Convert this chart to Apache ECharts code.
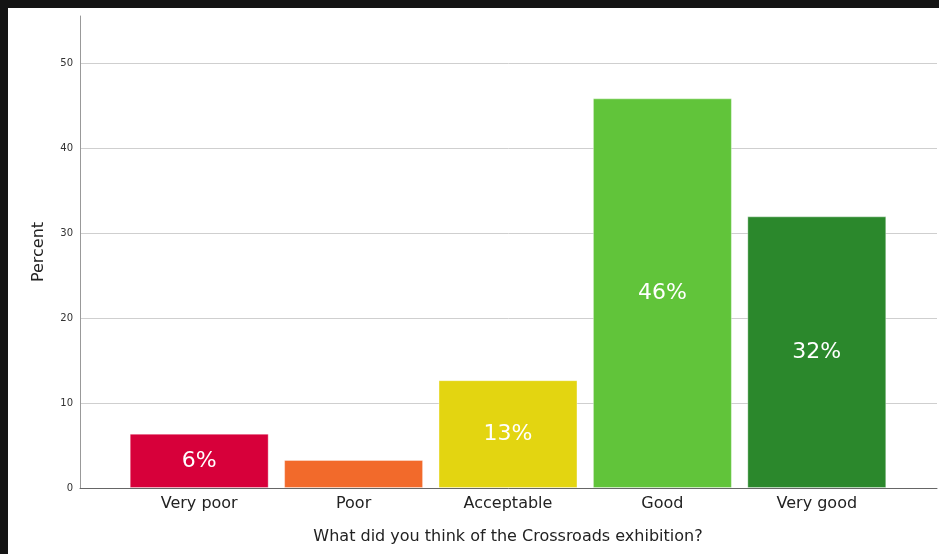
<!DOCTYPE html>
<html>
<head>
<meta charset="utf-8">
<script src="https://cdn.jsdelivr.net/npm/echarts@6/dist/echarts.min.js"></script>
<style>
  html, body { margin: 0; padding: 0; background: #141414; }
  #chart { position: absolute; left: 8px; top: 8px; width: 931px; height: 546px; background: #fff; }
</style>
</head>
<body>
<div id="chart"></div>
<script>
const categories = ['Very poor', 'Poor', 'Acceptable', 'Good', 'Very good'];
const percents = [6.4, 3.3, 12.7, 45.9, 32.0];
const barColors = ['#D7003A', '#F26A2B', '#E3D511', '#61C43A', '#2B882C'];
const showLabel = [true, false, true, true, true];
const yTicks = [0, 10, 20, 30, 40, 50];

const font = 'DejaVu Sans';
const chart = echarts.init(document.getElementById('chart'), null, { renderer: 'canvas' });

const yBase = {
  type: 'value',
  min: 0,
  max: 55.6,
  interval: 10,
};

chart.setOption({
  animation: false,
  textStyle: { fontFamily: font },
  grid: [
    { left: 72, right: 2, top: 8, bottom: 66 },
    { left: 114, right: 45, top: 8, bottom: 66 },
  ],
  xAxis: [
    {
      gridIndex: 0,
      type: 'value',
      min: 0,
      max: 1,
      axisLine: { show: true, lineStyle: { color: '#666', width: 1 } },
      axisTick: { show: false },
      axisLabel: { show: false },
      splitLine: { show: false },
    },
    {
      gridIndex: 1,
      type: 'category',
      data: categories,
      axisLine: { show: false },
      axisTick: { show: false },
      axisLabel: { color: '#222', fontSize: 16, margin: 8, fontFamily: font },
      name: 'What did you think of the Crossroads exhibition?',
      nameLocation: 'middle',
      nameGap: 41,
      nameTextStyle: { color: '#222', fontSize: 16, fontFamily: font },
    },
  ],
  yAxis: [
    Object.assign({}, yBase, {
      gridIndex: 0,
      axisLine: { show: true, lineStyle: { color: '#999' } },
      axisTick: { show: false },
      axisLabel: {
        color: '#333',
        fontSize: 10,
        margin: 7,
        showMaxLabel: false,
        formatter: (v) => (yTicks.includes(v) ? String(v) : ''),
      },
      splitLine: { show: true, showMaxLine: false, lineStyle: { color: '#cfcfcf', width: 1 } },
      name: 'Percent',
      nameLocation: 'middle',
      nameRotate: 90,
      nameGap: 33,
      nameTextStyle: { color: '#222', fontSize: 16, fontFamily: font },
    }),
    Object.assign({}, yBase, {
      gridIndex: 1,
      show: false,
      splitLine: { show: false },
    }),
  ],
  series: [
    {
      type: 'bar',
      xAxisIndex: 1,
      yAxisIndex: 1,
      barCategoryGap: '10%',
      data: percents.map((v, i) => ({
        value: v,
        itemStyle: { color: barColors[i], borderColor: 'rgba(255,255,255,0.35)', borderWidth: 1 },
        label: { show: showLabel[i] },
      })),
      label: {
        position: 'inside',
        color: '#fff',
        fontSize: 22,
        fontFamily: font,
        formatter: (p) => Math.round(p.value) + '%',
      },
    },
  ],
});
</script>
</body>
</html>
